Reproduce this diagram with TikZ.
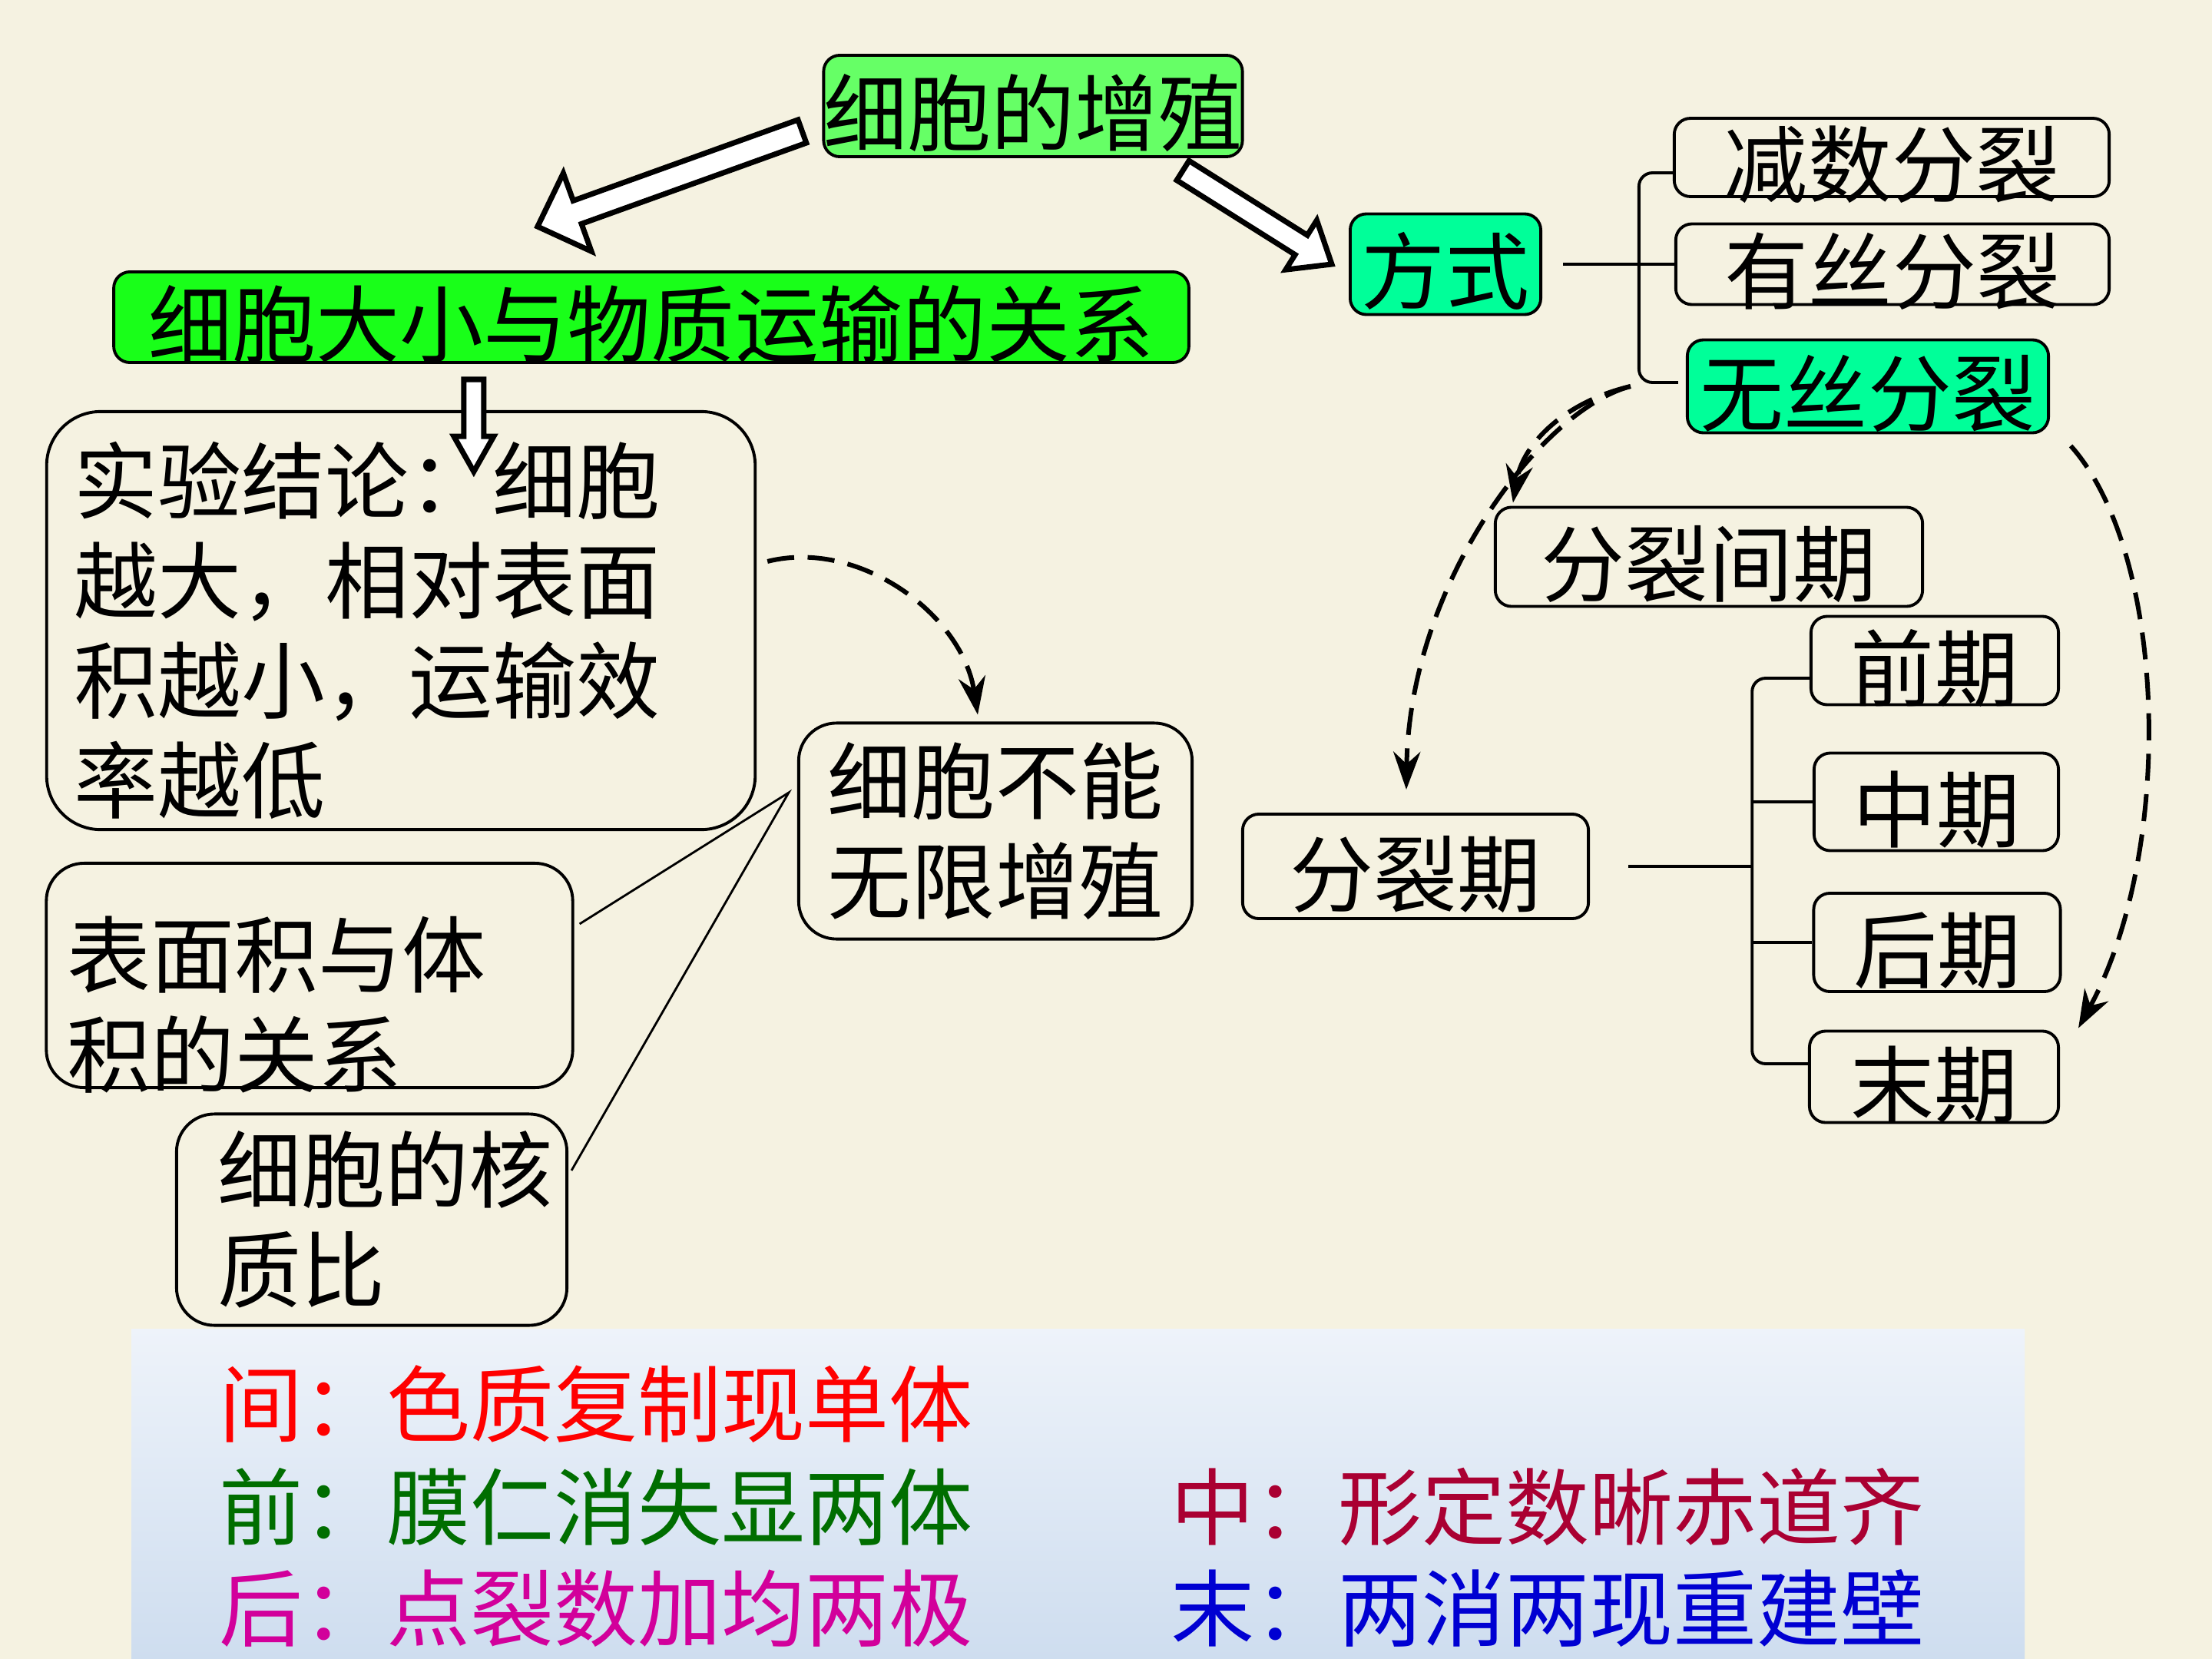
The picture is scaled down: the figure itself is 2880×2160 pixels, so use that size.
\documentclass[tikz,border=0pt]{standalone}
\usepackage{fontspec}
\setmainfont{Noto Sans CJK SC}
\usepackage{tikz}
\usetikzlibrary{arrows.meta, calc, positioning}

\definecolor{paper}{RGB}{245,242,225}
\definecolor{growgreen}{RGB}{102,255,102}
\definecolor{sizegreen}{RGB}{25,255,25}
\definecolor{modegreen}{RGB}{0,255,153}
\definecolor{notesky}{RGB}{238,243,250}
\definecolor{notesea}{RGB}{206,221,239}
\definecolor{interred}{RGB}{255,0,0}
\definecolor{prophgreen}{RGB}{0,110,0}
\definecolor{metared}{RGB}{170,0,50}
\definecolor{anamag}{RGB}{210,0,155}
\definecolor{teloblue}{RGB}{0,0,210}

% hollow block arrow: tail, tip, half shaft, half head, head length
\newcommand{\hollowarrow}[5]{%
  \draw[blockarr] ($(#1)!#3!90:(#2)$)
    -- ($($(#2)!#5!(#1)$)!#3!90:(#2)$)
    -- ($($(#2)!#5!(#1)$)!#4!90:(#2)$)
    -- (#2)
    -- ($($(#2)!#5!(#1)$)!#4!-90:(#2)$)
    -- ($($(#2)!#5!(#1)$)!#3!-90:(#2)$)
    -- ($(#1)!#3!-90:(#2)$) -- cycle;}

\begin{document}
\begin{tikzpicture}[x=0.01cm, y=-0.01cm,
  box/.style={draw, rounded corners=6pt, line width=1.1pt, inner sep=0pt,
              text height=29pt, text depth=0pt, font=\fontsize{31pt}{37pt}\selectfont},
  bigbox/.style={draw, rounded corners=#1, line width=1.1pt, align=left,
                 font=\fontsize{31pt}{37pt}\selectfont},
  bigbox/.default=14pt,
  line/.style={line width=1.1pt},
  thin/.style={line width=0.8pt},
  dasharr/.style={-{Stealth[length=14pt,width=10pt]}, line width=1.7pt,
                  dash pattern=on 10pt off 5pt},
  blockarr/.style={draw, fill=white, line width=2pt, line join=miter},
  note/.style={anchor=west, inner sep=0pt, font=\fontsize{31pt}{37pt}\selectfont}
]
  \fill[paper] (0,0) rectangle (2880,2160);
  \useasboundingbox (0,0) rectangle (2880,2160);
  \shade[top color=notesky, bottom color=notesea] (171,1730) rectangle (2636,2160);

  % top part
  \node[box, fill=growgreen, minimum width=5.45cm, minimum height=1.32cm] (grow) at (1345,138) {细胞的增殖};
  \node[box, fill=sizegreen, minimum width=13.99cm, minimum height=1.18cm] (relation) at (848,413) {细胞大小与物质运输的关系};
  \node[box, fill=modegreen, minimum width=2.48cm, minimum height=1.31cm] (mode) at (1882,344) {方式};
  \node[box, minimum width=5.66cm, minimum height=0.95cm] (meiosis) at (2463,205) {减数分裂};
  \node[box, minimum width=5.64cm, minimum height=1.05cm] (mitosis) at (2464,344) {有丝分裂};
  \node[box, fill=modegreen, minimum width=4.70cm, minimum height=1.21cm] (amitosis) at (2432,503) {无丝分裂};

  % left part
  \node[bigbox=20pt, text width=8.5cm, inner xsep=0.36cm, inner ysep=0.1cm,
        text height=31pt, text depth=111pt,
        minimum width=9.22cm, minimum height=5.44cm] (conclusion) at (522,808)
    {实验结论：细胞\\越大，相对表面\\积越小，运输效\\率越低};
  \node[bigbox, inner sep=0.1cm, minimum width=5.12cm, minimum height=2.81cm] (limit) at (1296,1082) {细胞不能\\无限增殖};
  \node[bigbox, text width=6.3cm, inner xsep=0.27cm, inner ysep=0.1cm,
        text height=38pt, text depth=30pt,
        minimum width=6.85cm, minimum height=2.92cm] (ratio) at (403,1270) {表面积与体\\积的关系};
  \node[bigbox, text width=4.0cm, inner xsep=0.54cm, inner ysep=0.1cm,
        minimum width=5.08cm, minimum height=2.75cm] (nucleus) at (484,1588) {细胞的核\\质比};

  % right part
  \node[box, minimum width=5.56cm, minimum height=1.29cm] (interphase) at (2225,725) {分裂间期};
  \node[box, minimum width=3.22cm, minimum height=1.15cm] (prophase) at (2519,860) {前期};
  \node[box, minimum width=3.18cm, minimum height=1.27cm] (metaphase) at (2521,1044) {中期};
  \node[box, minimum width=3.21cm, minimum height=1.28cm] (anaphase) at (2522,1227) {后期};
  \node[box, minimum width=3.24cm, minimum height=1.19cm] (telophase) at (2518,1402) {末期};
  \node[box, minimum width=4.50cm, minimum height=1.36cm] (mphase) at (1843,1128) {分裂期};

  % notes
  \node[note, text=interred] (inter) at (285,1828) {间：色质复制现单体};
  \node[note, text=prophgreen] (pro) at (285,1962) {前：膜仁消失显两体};
  \node[note, text=anamag] (ana) at (285,2094) {后：点裂数加均两极};
  \node[note, text=metared] (meta) at (1524,1962) {中：形定数晰赤道齐};
  \node[note, text=teloblue] (telo) at (1524,2094) {末：两消两现重建壁};

  % brackets
  \coordinate[left=0.46cm of mitosis.west] (fork);
  \draw[line] ([xshift=0.27cm]mode.east) -- (mitosis.west);
  \draw[line, rounded corners=5pt] ([yshift=-0.2cm]meiosis.west) -| (fork)
    |- ([xshift=-0.1cm,yshift=0.05cm]amitosis.west);
  \coordinate[right=2.11cm of mphase.east] (fork2);
  \draw[line] ([xshift=0.5cm]mphase.east) -- (fork2);
  \draw[line, rounded corners=5pt] ([yshift=-0.23cm]prophase.west) -| (fork2)
    |- ([yshift=0.17cm]telophase.west);
  \draw[line] (fork2 |- metaphase.west) -- (metaphase.west);
  \draw[line] (fork2 |- anaphase.west) -- (anaphase.west);

  % reasons
  \coordinate (join) at ([xshift=-0.11cm,yshift=0.5cm]limit.west);
  \draw[thin] ([xshift=0.07cm,yshift=0.67cm]ratio.east) -- (join)
    -- ([xshift=0.04cm,yshift=0.64cm]nucleus.east);

  % dashed arrows
  \draw[dasharr] ([xshift=0.14cm,yshift=0.77cm]conclusion.east)
    .. controls +(120,-30) and +(-20,-130) .. ([xshift=-0.23cm,yshift=0.09cm]limit.north);
  \coordinate (split) at ([xshift=-0.72cm]amitosis.west);
  \draw[dasharr] (split) .. controls +(-85,20) and +(13,-77)
    .. ([xshift=0.25cm,yshift=0.04cm]interphase.north west);
  \draw[dasharr] (split) .. controls +(-115,30) and +(4,-270)
    .. ([xshift=-0.12cm,yshift=0.3cm]mphase.north);
  \draw[dasharr] ([xshift=0.27cm,yshift=-0.15cm]amitosis.south east)
    .. controls +(126,141) and +(126,-231) .. ([xshift=0.24cm,yshift=0.02cm]telophase.north east);

  % block arrows
  \coordinate (tailL) at ([xshift=-0.26cm,yshift=-0.33cm]grow.west);
  \coordinate (tipL) at ([xshift=-1.48cm,yshift=0.57cm]relation.north);
  \hollowarrow{tailL}{tipL}{0.16cm}{0.54cm}{0.55cm}
  \coordinate (tailR) at ([xshift=1.95cm,yshift=-0.16cm]grow.south);
  \coordinate (tipR) at ([xshift=-0.22cm]mode.west);
  \hollowarrow{tailR}{tipR}{0.15cm}{0.38cm}{0.47cm}
  \coordinate (tailD) at ([xshift=-2.31cm,yshift=-0.2cm]relation.south);
  \coordinate (tipD) at ([xshift=-2.31cm,yshift=-1.4cm]relation.south);
  \hollowarrow{tailD}{tipD}{0.13cm}{0.26cm}{0.46cm}
\end{tikzpicture}
\end{document}
